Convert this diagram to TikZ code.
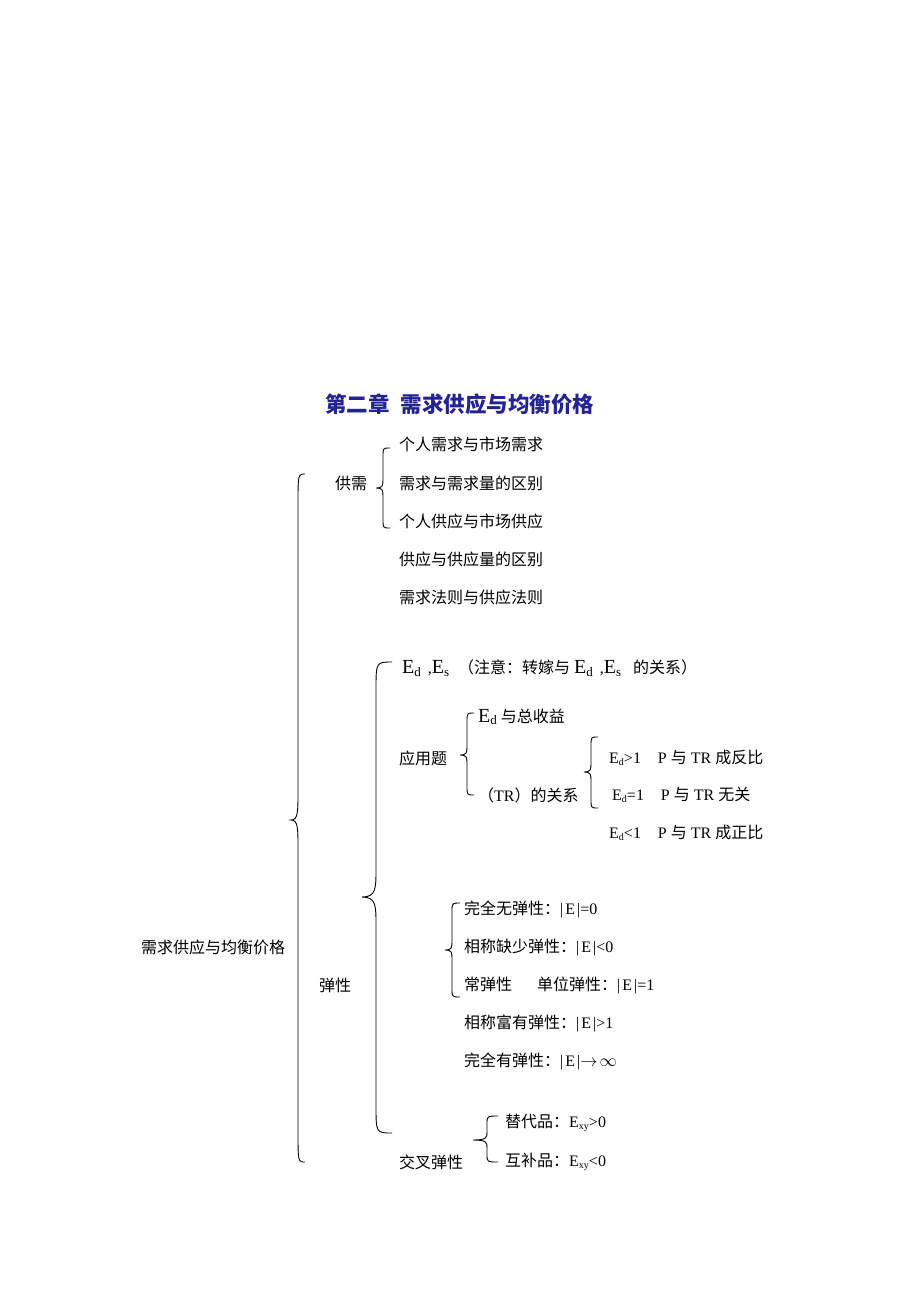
\documentclass[tikz,border=0pt]{standalone}
\usepackage{fontspec}
\setmainfont{Liberation Serif}
\newfontfamily\cjk{Noto Sans CJK SC}
\definecolor{titleblue}{RGB}{35,35,150}
\newcommand\zhs[1]{{\cjk #1}}
\newcommand\bigE{{\fontsize{20}{20}\selectfont E}}
\newcommand\subd[1]{\raisebox{-0.35ex}{\fontsize{13}{13}\selectfont #1}}
\newcommand\subs[1]{\raisebox{-0.35ex}{\fontsize{10}{10}\selectfont #1}}
\newcommand\absE{|\hspace{2pt}E\hspace{2pt}|}
% #1 arm x, #2 spine x, #3 tip x, #4 top y, #5 tip y, #6 bottom y, #7 end radius, #8 tip radius
\newcommand\curlyb[8]{%
  \draw[br] (#1,#4) .. controls (#2,#4) and (#2,#4) .. (#2,#4+#7) -- (#2,#5-#8)
    .. controls (#2,#5-0.3*#8) and (#2,#5) .. (#3,#5) .. controls (#2,#5) and (#2,#5+0.3*#8) .. (#2,#5+#8)
    -- (#2,#6-#7) .. controls (#2,#6) and (#2,#6) .. (#1,#6);}
\begin{document}
\begin{tikzpicture}[x=1pt,y=-1pt,
  txt/.style={anchor=west, inner sep=0pt, font=\fontsize{16}{16}\selectfont},
  br/.style={line width=0.9pt, black}]
\useasboundingbox (0,0) rectangle (920,1302);

% title
\node[anchor=west, inner sep=0pt, text=titleblue, font=\fontsize{21.5}{22}\selectfont\cjk\bfseries] (title) at (325,404) {第二章\hspace{11pt}需求供应与均衡价格};

% root
\node[txt] (root) at (141,947) {\zhs{需求供应与均衡价格}};

% supply-demand
\node[txt] (gx) at (335,483) {\zhs{供需}};
\node[txt] (g1) at (399,444) {\zhs{个人需求与市场需求}};
\node[txt] (g2) at (399,483) {\zhs{需求与需求量的区别}};
\node[txt] (g3) at (399,521) {\zhs{个人供应与市场供应}};
\node[txt] (g4) at (399,559) {\zhs{供应与供应量的区别}};
\node[txt] (g5) at (399,597) {\zhs{需求法则与供应法则}};

% elasticity
\node[txt] (tx) at (319,985) {\zhs{弹性}};
\node[txt] (e1) at (402,668) {\bigE\subd{d}\hspace{7pt},\bigE\subd{s}\hspace{9pt}\zhs{（注意：转嫁与}\hspace{4pt}\bigE\subd{d}\hspace{7pt},\bigE\subd{s}\hspace{12pt}\zhs{的关系）}};
\node[txt] (yy) at (399,758) {\zhs{应用题}};
\node[txt] (y1) at (478,717) {\bigE\subd{d} \zhs{与总收益}};
\node[txt] (y2) at (478,795) {\zhs{（}TR\zhs{）的关系}};
\node[txt] (r1) at (609,758) {E\subs{d}>1\hspace{17pt}P \zhs{与} TR \zhs{成反比}};
\node[txt] (r2) at (612,795) {E\subs{d}=1\hspace{17pt}P \zhs{与} TR \zhs{无关}};
\node[txt] (r3) at (609,833) {E\subs{d}<1\hspace{17pt}P \zhs{与} TR \zhs{成正比}};

\node[txt] (k1) at (464,909) {\zhs{完全无弹性：}\absE=0};
\node[txt] (k2) at (464,947) {\zhs{相称缺少弹性：}\absE<0};
\node[txt] (k3) at (464,985) {\zhs{常弹性}\hspace{25pt}\zhs{单位弹性：}\absE=1};
\node[txt] (k4) at (464,1023) {\zhs{相称富有弹性：}\absE>1};
\node[txt] (k5) at (464,1061) {\zhs{完全有弹性：}\absE$\rightarrow\!\infty$};

\node[txt] (cx) at (399,1162) {\zhs{交叉弹性}};
\node[txt] (c1) at (505,1123) {\zhs{替代品：}E\subs{xy}>0};
\node[txt] (c2) at (505,1162) {\zhs{互补品：}E\subs{xy}<0};

% braces
\curlyb{305}{298}{291}{474}{820}{1162}{32}{28}
\curlyb{390}{383}{376}{448}{488}{528}{9}{9}
\curlyb{392}{376}{362}{662}{897}{1133}{28}{28}
\curlyb{474}{467}{460}{713}{755}{795}{9}{9}
\curlyb{598}{591}{584}{737}{772}{808}{9}{9}
\curlyb{460}{452}{445}{903}{950}{997}{9}{9}
\curlyb{498}{487}{473}{1116}{1140}{1162}{8}{8}
\end{tikzpicture}
\end{document}
